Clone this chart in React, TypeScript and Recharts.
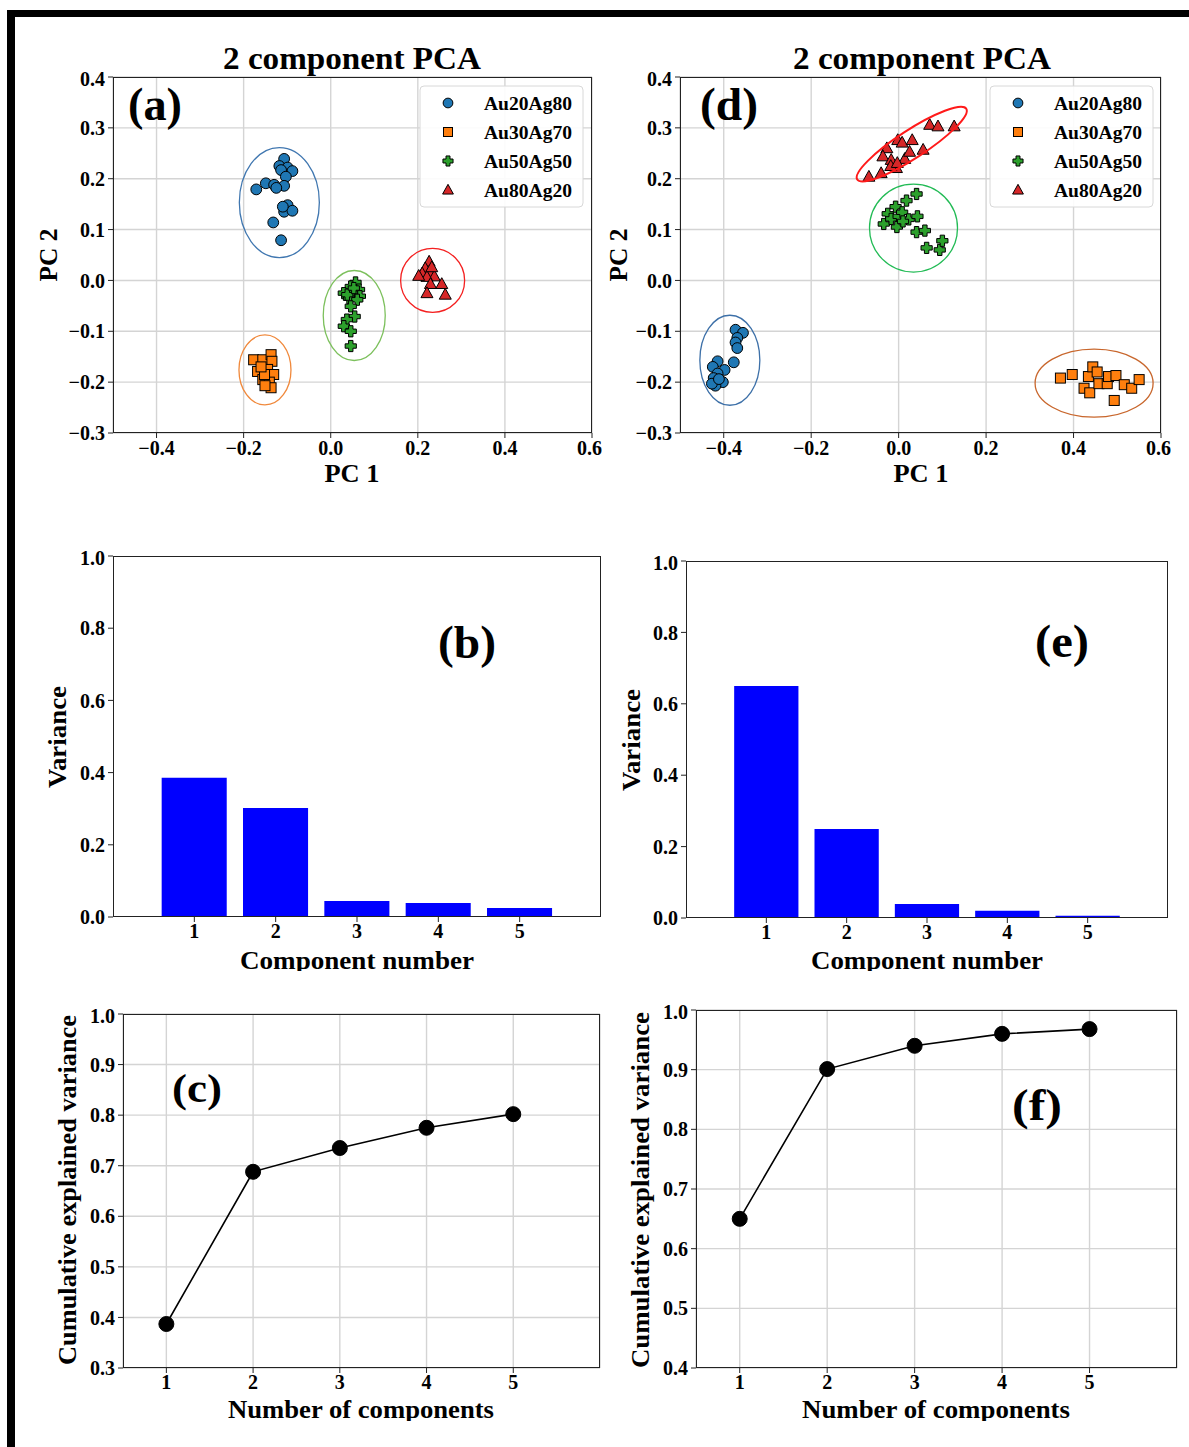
import React from "react";
import {
  ScatterChart,
  Scatter,
  BarChart,
  Bar,
  LineChart,
  Line,
  XAxis,
  YAxis,
  CartesianGrid,
  ReferenceDot,
} from "recharts";

const FONT = "'Liberation Serif', 'Times New Roman', serif";

const SERIES_NAMES = ["Au20Ag80", "Au30Ag70", "Au50Ag50", "Au80Ag20"];
const SERIES_COLORS = ["#1f77b4", "#ff7f0e", "#2ca02c", "#d62728"];

// PCA scores, panel (a)
const A_AU20AG80 = [
  [-0.107, 0.239], [-0.118, 0.225], [-0.099, 0.222], [-0.088, 0.215], [-0.114, 0.217],
  [-0.103, 0.204], [-0.171, 0.179], [-0.149, 0.191], [-0.130, 0.188], [-0.107, 0.186],
  [-0.125, 0.182], [-0.099, 0.148], [-0.107, 0.135], [-0.088, 0.137], [-0.110, 0.145],
  [-0.132, 0.114], [-0.114, 0.079],
];
const A_AU30AG70 = [
  [-0.177, -0.156], [-0.156, -0.156], [-0.137, -0.146], [-0.135, -0.159], [-0.168, -0.179],
  [-0.145, -0.175], [-0.131, -0.185], [-0.156, -0.195], [-0.141, -0.2], [-0.137, -0.211],
  [-0.151, -0.207], [-0.152, -0.185], [-0.16, -0.17],
];
const A_AU50AG50 = [
  [0.057, -0.004], [0.046, -0.012], [0.065, -0.018], [0.03, -0.025], [0.05, -0.025],
  [0.067, -0.031], [0.042, -0.035], [0.061, -0.038], [0.046, -0.051], [0.055, -0.071],
  [0.037, -0.077], [0.03, -0.09], [0.046, -0.1], [0.046, -0.129], [0.038, -0.028],
  [0.053, -0.015],
];
const A_AU80AG20 = [
  [0.226, 0.037], [0.217, 0.024], [0.21, 0.014], [0.229, 0.014], [0.238, 0.008],
  [0.221, 0.007], [0.229, -0.007], [0.255, -0.007], [0.221, -0.025], [0.263, -0.028],
  [0.202, 0.009], [0.232, 0.026],
];

// PCA scores, panel (d)
const D_AU20AG80 = [
  [-0.373, -0.097], [-0.356, -0.103], [-0.369, -0.113], [-0.373, -0.122], [-0.369, -0.133],
  [-0.377, -0.161], [-0.414, -0.159], [-0.425, -0.17], [-0.398, -0.176], [-0.414, -0.183],
  [-0.423, -0.192], [-0.402, -0.2], [-0.419, -0.207], [-0.427, -0.203], [-0.411, -0.194],
];
const D_AU30AG70 = [
  [0.37, -0.192], [0.397, -0.185], [0.424, -0.212], [0.437, -0.221], [0.434, -0.189],
  [0.444, -0.17], [0.454, -0.18], [0.458, -0.203], [0.477, -0.203], [0.48, -0.189],
  [0.497, -0.187], [0.516, -0.205], [0.533, -0.212], [0.55, -0.195], [0.493, -0.236],
];
const D_AU50AG50 = [
  [0.041, 0.17], [0.018, 0.157], [-0.007, 0.145], [-0.025, 0.131], [-0.034, 0.111],
  [-0.017, 0.121], [0.0, 0.126], [0.008, 0.134], [0.023, 0.12], [0.043, 0.126],
  [0.041, 0.095], [0.06, 0.098], [-0.004, 0.105], [0.064, 0.064], [0.094, 0.06],
  [0.1, 0.078], [0.01, 0.116],
];
const D_AU80AG20 = [
  [-0.068, 0.204], [-0.04, 0.211], [-0.027, 0.26], [-0.036, 0.244], [-0.017, 0.237],
  [-0.005, 0.221], [-0.002, 0.276], [0.008, 0.271], [0.014, 0.239], [0.025, 0.253],
  [0.031, 0.276], [0.056, 0.257], [0.071, 0.306], [0.09, 0.303], [0.127, 0.303],
  [-0.018, 0.225], [-0.003, 0.231],
];

// cluster outlines: centre in PC units, radii in px
const A_ELLIPSES = [
  { x: -0.118, y: 0.153, rx: 40, ry: 55, angle: 0, color: "#4077b0" },
  { x: -0.151, y: -0.176, rx: 26, ry: 35, angle: 0, color: "#f0893c" },
  { x: 0.054, y: -0.069, rx: 31, ry: 45, angle: 0, color: "#7cc05c" },
  { x: 0.234, y: 0.0, rx: 32, ry: 32, angle: 0, color: "#f42020" },
];
const D_ELLIPSES = [
  { x: -0.386, y: -0.157, rx: 30, ry: 45, angle: 0, color: "#3d70a8" },
  { x: 0.447, y: -0.202, rx: 59, ry: 34, angle: 0, color: "#c8662c" },
  { x: 0.034, y: 0.103, rx: 44, ry: 44, angle: 0, color: "#22bb55" },
  { x: 0.03, y: 0.268, rx: 65, ry: 14, angle: -33, color: "#ff1a1a" },
];

const COMPONENTS = [1, 2, 3, 4, 5];
const VARIANCE_B = [0.386, 0.302, 0.044, 0.039, 0.025];
const VARIANCE_E = [0.65, 0.249, 0.039, 0.02, 0.006];
const CUMULATIVE_C = [0.387, 0.688, 0.735, 0.775, 0.802];
const CUMULATIVE_F = [0.65, 0.901, 0.94, 0.96, 0.968];

const PC_X_TICKS = [-0.4, -0.2, 0, 0.2, 0.4, 0.6];
const PC_Y_TICKS = [-0.3, -0.2, -0.1, 0, 0.1, 0.2, 0.3, 0.4];
const VAR_TICKS = [0, 0.2, 0.4, 0.6, 0.8, 1.0];
const CUM_TICKS_C = [0.3, 0.4, 0.5, 0.6, 0.7, 0.8, 0.9, 1.0];
const CUM_TICKS_F = [0.4, 0.5, 0.6, 0.7, 0.8, 0.9, 1.0];

const YW = 60; // y axis width
const XH = 40; // x axis height
const MT = 10;
const MR = 10;

const tickStyle = { fontFamily: FONT, fontWeight: 700, fontSize: 20, fill: "#000" };
const fmt1 = (v: number) => v.toFixed(1).replace("-", "\u2212");

function markerFor(i: number, s = 1) {
  const color = SERIES_COLORS[i];
  return (p: any) => {
    const { cx, cy } = p;
    if (cx == null || cy == null) return <g />;
    if (i === 0) return <circle cx={cx} cy={cy} r={5.4 * s} fill={color} stroke="#000" strokeWidth={1} />;
    if (i === 1)
      return (
        <rect x={cx - 5 * s} y={cy - 5 * s} width={10 * s} height={10 * s} fill={color} stroke="#000" strokeWidth={1} />
      );
    if (i === 2) {
      const a = 5.6 * s;
      const b = 2.2 * s;
      const d = `M${cx - b},${cy - a}H${cx + b}V${cy - b}H${cx + a}V${cy + b}H${cx + b}V${cy + a}H${cx - b}V${cy + b}H${cx - a}V${cy - b}H${cx - b}Z`;
      return <path d={d} fill={color} stroke="#000" strokeWidth={1} />;
    }
    const d = `M${cx},${cy - 6.3 * s}L${cx + 6 * s},${cy + 4.5 * s}L${cx - 6 * s},${cy + 4.5 * s}Z`;
    return <path d={d} fill={color} stroke="#000" strokeWidth={1} />;
  };
}

type Rect = { x0: number; y0: number; x1: number; y1: number };

function Frame({ r }: { r: Rect }) {
  return (
    <div
      style={{
        position: "absolute",
        left: YW,
        top: MT,
        width: r.x1 - r.x0,
        height: r.y1 - r.y0,
        border: "1.2px solid #222",
        boxSizing: "border-box",
        pointerEvents: "none",
      }}
    />
  );
}

function PcaPanel({ r, series, ellipses }: { r: Rect; series: number[][][]; ellipses: any[] }) {
  const w = r.x1 - r.x0 + YW + MR;
  const h = r.y1 - r.y0 + MT + XH;
  return (
    <div style={{ position: "absolute", left: r.x0 - YW, top: r.y0 - MT, width: w, height: h }}>
      <ScatterChart width={w} height={h} margin={{ top: MT, right: MR, bottom: 0, left: 0 }}>
        <CartesianGrid stroke="#d4d4d4" strokeWidth={1.4} />
        <XAxis
          type="number"
          dataKey="x"
          domain={[-0.5, 0.6]}
          ticks={PC_X_TICKS}
          tickFormatter={fmt1}
          tick={tickStyle}
          tickLine={{ stroke: "#222" }}
          tickSize={5}
          tickMargin={3}
          axisLine={false}
          height={XH}
          allowDataOverflow
        />
        <YAxis
          type="number"
          dataKey="y"
          domain={[-0.3, 0.4]}
          ticks={PC_Y_TICKS}
          tickFormatter={fmt1}
          tick={tickStyle}
          tickLine={{ stroke: "#222" }}
          tickSize={5}
          tickMargin={3}
          axisLine={false}
          width={YW}
          allowDataOverflow
        />
        {series.map((pts, i) => (
          <Scatter
            key={SERIES_NAMES[i]}
            name={SERIES_NAMES[i]}
            data={pts.map(([x, y]) => ({ x, y }))}
            shape={markerFor(i)}
            isAnimationActive={false}
          />
        ))}
        {ellipses.map((e, i) => (
          <ReferenceDot
            key={i}
            x={e.x}
            y={e.y}
            r={1}
            ifOverflow="visible"
            shape={(p: any) => (
              <ellipse
                cx={p.cx}
                cy={p.cy}
                rx={e.rx}
                ry={e.ry}
                fill="none"
                stroke={e.color}
                strokeWidth={e.angle ? 2 : 1.3}
                transform={`rotate(${e.angle} ${p.cx} ${p.cy})`}
              />
            )}
          />
        ))}
      </ScatterChart>
      <Frame r={r} />
    </div>
  );
}

function VariancePanel({ r, values }: { r: Rect; values: number[] }) {
  const pw = r.x1 - r.x0;
  const w = pw + YW + MR;
  const h = r.y1 - r.y0 + MT + XH;
  const rows = COMPONENTS.map((n, i) => ({ n, v: values[i] }));
  return (
    <div style={{ position: "absolute", left: r.x0 - YW, top: r.y0 - MT, width: w, height: h }}>
      <BarChart width={w} height={h} data={rows} margin={{ top: MT, right: MR, bottom: 0, left: 0 }}>
        <XAxis
          dataKey="n"
          type="category"
          padding={{ left: pw / 12, right: pw / 12 }}
          tick={tickStyle}
          tickLine={{ stroke: "#222" }}
          tickSize={5}
          tickMargin={2}
          axisLine={false}
          height={XH}
        />
        <YAxis
          type="number"
          domain={[0, 1]}
          ticks={VAR_TICKS}
          tickFormatter={fmt1}
          tick={tickStyle}
          tickLine={{ stroke: "#222" }}
          tickSize={5}
          tickMargin={3}
          axisLine={false}
          width={YW}
        />
        <Bar dataKey="v" fill="#0000ff" barSize={(pw / 6) * 0.8} isAnimationActive={false} />
      </BarChart>
      <Frame r={r} />
    </div>
  );
}

function CumulativePanel({ r, values, yMin, ticks }: { r: Rect; values: number[]; yMin: number; ticks: number[] }) {
  const w = r.x1 - r.x0 + YW + MR;
  const h = r.y1 - r.y0 + MT + XH;
  const rows = COMPONENTS.map((n, i) => ({ n, v: values[i] }));
  return (
    <div style={{ position: "absolute", left: r.x0 - YW, top: r.y0 - MT, width: w, height: h }}>
      <LineChart width={w} height={h} data={rows} margin={{ top: MT, right: MR, bottom: 0, left: 0 }}>
        <CartesianGrid stroke="#d4d4d4" strokeWidth={1.4} />
        <XAxis
          dataKey="n"
          type="number"
          domain={[0.5, 6]}
          ticks={COMPONENTS}
          tick={tickStyle}
          tickLine={{ stroke: "#222" }}
          tickSize={5}
          tickMargin={2}
          axisLine={false}
          height={XH}
          allowDataOverflow
        />
        <YAxis
          type="number"
          domain={[yMin, 1]}
          ticks={ticks}
          tickFormatter={fmt1}
          tick={tickStyle}
          tickLine={{ stroke: "#222" }}
          tickSize={5}
          tickMargin={3}
          axisLine={false}
          width={YW}
          allowDataOverflow
        />
        <Line
          type="linear"
          dataKey="v"
          stroke="#000"
          strokeWidth={1.6}
          dot={{ r: 7.5, fill: "#000", stroke: "#000", strokeWidth: 1 }}
          activeDot={false}
          isAnimationActive={false}
        />
      </LineChart>
      <Frame r={r} />
    </div>
  );
}

const RECT_A = { x0: 113, y0: 77, x1: 592, y1: 433 };
const RECT_D = { x0: 680, y0: 77, x1: 1161, y1: 433 };
const RECT_B = { x0: 113, y0: 556, x1: 601, y1: 917 };
const RECT_E = { x0: 686, y0: 561, x1: 1168, y1: 918 };
const RECT_C = { x0: 123, y0: 1014, x1: 600, y1: 1368 };
const RECT_F = { x0: 696, y0: 1010, x1: 1177, y1: 1368 };

function T({ x, y, size, len, children, anchor = "middle", rotate = false, clip }: any) {
  return (
    <text
      x={x}
      y={y}
      fontFamily={FONT}
      fontWeight={700}
      fontSize={size}
      textAnchor={anchor}
      textLength={len}
      lengthAdjust="spacingAndGlyphs"
      fill="#000"
      transform={rotate ? `rotate(-90 ${x} ${y})` : undefined}
      clipPath={clip}
    >
      {children}
    </text>
  );
}

function LegendBox({ x, y }: { x: number; y: number }) {
  return (
    <g>
      <rect x={x} y={y} width={163} height={121} rx={4} fill="#fff" fillOpacity={0.9} stroke="#d8d8d8" strokeWidth={1} />
      {SERIES_NAMES.map((name, i) => {
        const cy = y + 17 + i * 29;
        return (
          <g key={name}>
            {markerFor(i, 0.9)({ cx: x + 28, cy })}
            <T x={x + 64} y={cy + 7} size={19} len={88} anchor="start">
              {name}
            </T>
          </g>
        );
      })}
    </g>
  );
}

function Overlay() {
  return (
    <svg width={1189} height={1447} style={{ position: "absolute", left: 0, top: 0, pointerEvents: "none" }}>
      <defs>
        <clipPath id="clipMid">
          <rect x={0} y={0} width={1189} height={971} />
        </clipPath>
        <clipPath id="clipBottom">
          <rect x={0} y={0} width={1189} height={1421} />
        </clipPath>
      </defs>
      <rect x={7} y={10} width={1182} height={7} fill="#000" />
      <rect x={7} y={10} width={8} height={1437} fill="#000" />

      <T x={352} y={69} size={31} len={258}>2 component PCA</T>
      <T x={922} y={69} size={31} len={258}>2 component PCA</T>

      <T x={128} y={120} size={46} len={54} anchor="start">(a)</T>
      <T x={700} y={120} size={46} len={58} anchor="start">(d)</T>
      <T x={438} y={658} size={46} len={58} anchor="start">(b)</T>
      <T x={1035} y={657} size={46} len={54} anchor="start">(e)</T>
      <T x={172} y={1102} size={40} len={50} anchor="start">(c)</T>
      <T x={1012} y={1120} size={44} len={50} anchor="start">(f)</T>

      <T x={352} y={482} size={26} len={55}>PC 1</T>
      <T x={921} y={482} size={26} len={55}>PC 1</T>
      <T x={57} y={255} size={26} len={53} rotate>PC 2</T>
      <T x={627} y={255} size={26} len={53} rotate>PC 2</T>

      <T x={66} y={737} size={26} len={102} rotate>Variance</T>
      <T x={640} y={740} size={26} len={102} rotate>Variance</T>
      <T x={357} y={969} size={26} len={234} clip="url(#clipMid)">Component number</T>
      <T x={927} y={969} size={26} len={232} clip="url(#clipMid)">Component number</T>

      <T x={76} y={1190} size={26} len={350} rotate>Cumulative explained variance</T>
      <T x={649} y={1190} size={26} len={356} rotate>Cumulative explained variance</T>
      <T x={361} y={1418} size={26} len={266} clip="url(#clipBottom)">Number of components</T>
      <T x={936} y={1418} size={26} len={268} clip="url(#clipBottom)">Number of components</T>

      <LegendBox x={420} y={86} />
      <LegendBox x={990} y={86} />
    </svg>
  );
}

export default function App() {
  return (
    <div style={{ position: "absolute", left: 0, top: 0, width: 1189, height: 1447, background: "#fff", overflow: "hidden" }}>
      <PcaPanel r={RECT_A} series={[A_AU20AG80, A_AU30AG70, A_AU50AG50, A_AU80AG20]} ellipses={A_ELLIPSES} />
      <PcaPanel r={RECT_D} series={[D_AU20AG80, D_AU30AG70, D_AU50AG50, D_AU80AG20]} ellipses={D_ELLIPSES} />
      <VariancePanel r={RECT_B} values={VARIANCE_B} />
      <VariancePanel r={RECT_E} values={VARIANCE_E} />
      <CumulativePanel r={RECT_C} values={CUMULATIVE_C} yMin={0.3} ticks={CUM_TICKS_C} />
      <CumulativePanel r={RECT_F} values={CUMULATIVE_F} yMin={0.4} ticks={CUM_TICKS_F} />
      <Overlay />
    </div>
  );
}
